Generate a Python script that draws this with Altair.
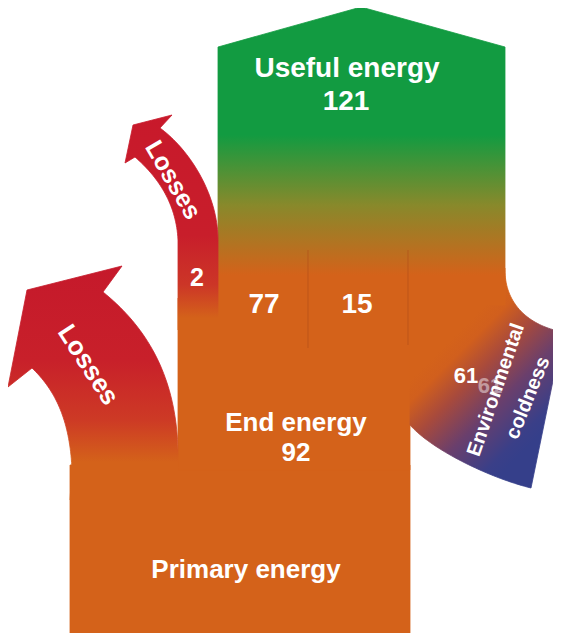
import altair as alt
import numpy as np

# ---------------- values ----------------
stage_labels = ["Useful energy", "End energy", "Primary energy"]
stage_values = [121, 92]          # Primary energy total is not printed
loss_labels = ["Losses", "Losses"]
flow_values = [2, 77, 15, 61]     # small losses, 77, 15, environmental coldness
cold_label = ["Environmental", "coldness"]

# ---------------- styling / layout ----------------
ORANGE = "#d4621a"
GREEN = "#129b41"
OLIVE = "#88892b"
RED = "#c8192b"
BLUE = "#353f8a"
FONT = "Liberation Sans"
OFF = 8  # page margin


def bez(p0, p1, p2, p3, n=40):
    t = np.linspace(0, 1, n)[:, None]
    p0, p1, p2, p3 = (np.array(p, dtype=float) for p in (p0, p1, p2, p3))
    pts = (1 - t) ** 3 * p0 + 3 * (1 - t) ** 2 * t * p1 + 3 * (1 - t) * t ** 2 * p2 + t ** 3 * p3
    return [(float(a), float(b)) for a, b in pts]


def feature(pts):
    ring = [[x - OFF, y - OFF] for x, y in pts]
    ring.append(ring[0])
    return {"type": "Feature", "properties": {},
            "geometry": {"type": "Polygon", "coordinates": [ring]}}


def line_feature(pts):
    return {"type": "Feature", "properties": {},
            "geometry": {"type": "LineString",
                         "coordinates": [[x - OFF, y - OFF] for x, y in pts]}}


def grad(stops, x1=0, y1=0, x2=0, y2=1):
    return alt.Gradient(gradient="linear",
                        stops=[alt.GradientStop(offset=o, color=c) for o, c in stops],
                        x1=x1, y1=y1, x2=x2, y2=y2)


def shape(pts, fill):
    return alt.Chart(alt.Data(values=[feature(pts)])).mark_geoshape(
        fill=fill, stroke=fill, strokeWidth=0.8)


def ystops(pts, stops_y):
    """convert (y_pixel, colour) stops to bounding-box offsets"""
    ys = [p[1] for p in pts]
    y0, y1 = min(ys), max(ys)
    return [(min(1, max(0, (y - y0) / (y1 - y0))), c) for y, c in stops_y]


# layout of the schematic columns (px)
L_PRIM, R_COL = 70, 410
L_END, L_USE, R_USE = 178, 218, 505

primary = [(L_PRIM, 465), (R_COL, 465), (R_COL, 650), (L_PRIM, 650)]
end_col = [(L_END, 298), (R_COL, 298), (R_COL, 470), (L_END, 470)]

useful = [(L_USE, 305), (L_USE, 47), (361, 7), (R_USE, 47), (R_USE, 305)]
useful_fill = grad(ystops(useful, [(7, GREEN), (135, GREEN), (205, OLIVE),
                                   (275, ORANGE), (305, ORANGE)]))

env_upper = bez((R_USE, 270), (R_USE, 305), (530, 326), (563, 332))
env_lower = bez((R_COL, 425), (432, 450), (490, 478), (531, 488))
env = [(R_COL, 268), (R_USE, 268)] + env_upper + env_lower[::-1]
xs = [p[0] for p in env]; ys = [p[1] for p in env]
bw, bh = max(xs) - min(xs), max(ys) - min(ys)
k0 = min(xs) + min(ys)
nrm = bw ** 2 + bh ** 2
ka, kb = 790 - k0, 975 - k0
env_fill = grad([(0, ORANGE), (0.12, "#d15f1d"), (0.33, "#a84a3c"), (0.6, "#6a3f6c"),
                 (0.9, "#3a3f88"), (1, BLUE)],
                x1=ka * bw / nrm, y1=ka * bh / nrm, x2=kb * bw / nrm, y2=kb * bh / nrm)

small_right = bez((L_USE, 240), (L_USE, 195), (190, 150), (160, 128))
small_left = bez((135, 157), (152, 172), (176, 198), (L_END, 240))
small = ([(L_USE, 330)] + small_right + [(172, 115), (133, 125), (125, 163)]
         + small_left + [(L_END, 330)])
small_fill = grad(ystops(small, [(115, RED), (235, "#c81e2b"), (285, "#cc3627"),
                                 (318, ORANGE), (330, ORANGE)]))

big_right = bez((L_END, 450), (176, 380), (150, 330), (103, 292))
big_left = bez((32, 368), (55, 390), (70, 420), (72, 470))
big = ([(L_END, 500)] + big_right + [(122, 266), (27, 290), (8, 387)]
       + big_left + [(L_PRIM, 500)])
big_fill = grad(ystops(big, [(266, "#c5192b"), (360, "#c8202a"), (420, "#cd3a25"),
                             (462, ORANGE), (500, ORANGE)]))

lines_data = alt.Data(values=[line_feature([(308, 250), (308, 348)]),
                              line_feature([(408, 250), (408, 345)])])
divider = alt.Chart(lines_data).mark_geoshape(
    filled=False, stroke="#b04c18", strokeOpacity=0.45, strokeWidth=1.3)

# ---------------- texts ----------------
flat_rows = [
    (stage_labels[0], 347, 77, 28, 1.0),
    (str(stage_values[0]), 346, 110, 28, 1.0),
    (stage_labels[1], 296, 431, 26, 1.0),
    (str(stage_values[1]), 296, 461, 26, 1.0),
    (stage_labels[2], 246, 578, 26, 1.0),
    (str(flow_values[0]), 197, 286, 25, 1.0),
    (str(flow_values[1]), 264, 313, 28, 1.0),
    (str(flow_values[2]), 357, 313, 28, 1.0),
    (str(flow_values[3]), 490, 393, 22, 0.45),
    (str(flow_values[3]), 466, 383, 22, 1.0),
]
flat = [{"label": t, "lon": x - OFF, "lat": y - OFF, "size": s, "op": o}
        for t, x, y, s, o in flat_rows]

rot_rows = [
    (loss_labels[0], 173, 180, 60, 25),
    (loss_labels[1], 88, 365, 57, 26),
    (cold_label[0], 496, 390, 289, 20),
    (cold_label[1], 528, 398, 292, 20),
]
rot = [{"label": t, "lon": x - OFF, "lat": y - OFF, "angle": a, "size": s}
       for t, x, y, a, s in rot_rows]

flat_text = alt.Chart(alt.Data(values=flat)).mark_text(
    font=FONT, fontWeight="bold", color="white", align="center", baseline="alphabetic"
).encode(
    longitude="lon:Q", latitude="lat:Q", text="label:N",
    size=alt.Size("size:Q", scale=None), opacity=alt.Opacity("op:Q", scale=None))

rot_text = alt.Chart(alt.Data(values=rot)).mark_text(
    font=FONT, fontWeight="bold", color="white", align="center", baseline="middle"
).encode(
    longitude="lon:Q", latitude="lat:Q", text="label:N",
    angle=alt.Angle("angle:Q", scale=None), size=alt.Size("size:Q", scale=None))

chart = alt.layer(
    shape(primary, ORANGE),
    shape(end_col, ORANGE),
    shape(env, env_fill),
    shape(useful, useful_fill),
    shape(small, small_fill),
    shape(big, big_fill),
    divider,
    flat_text,
    rot_text,
).project(
    type="identity", scale=1, translate=[0, 0]
).properties(
    width=545, height=625, padding=0, autosize="none", background="white"
).configure_view(strokeWidth=0)

chart.save("out.html", embed_options={"renderer": "svg", "actions": False})
